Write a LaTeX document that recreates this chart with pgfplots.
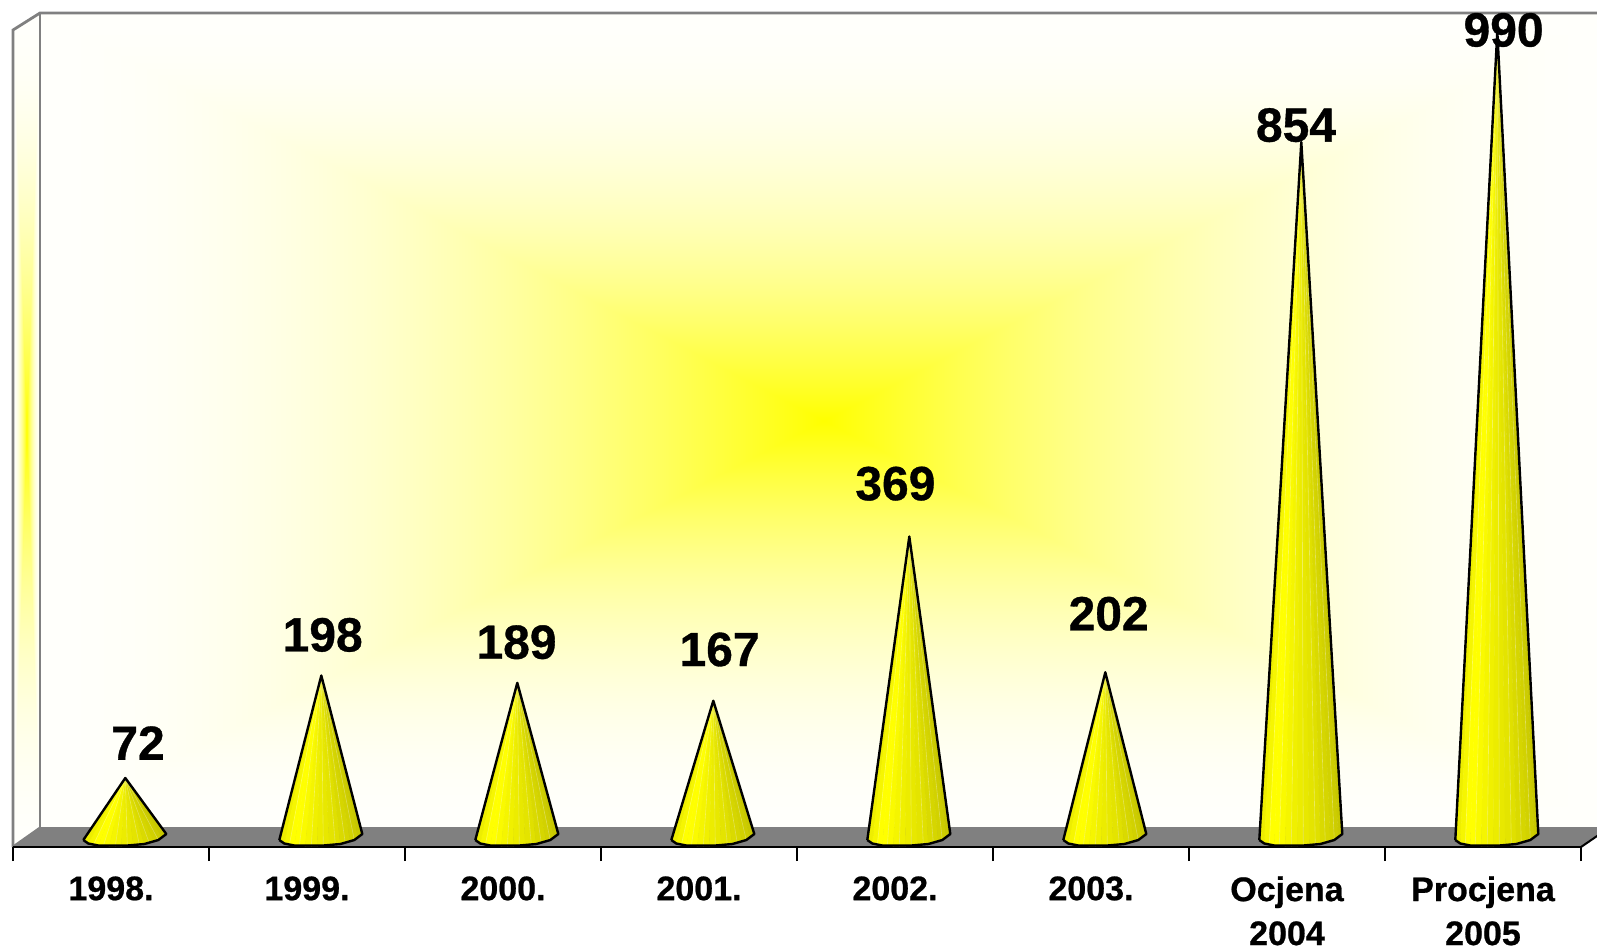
\documentclass[border=0pt]{standalone}
\usepackage{pgfplots}
\usepackage{fontspec}
\setmainfont{Liberation Sans}[BoldFeatures={FakeBold=0.7}]
\pgfplotsset{compat=1.18}
% rectangular "from centre" gradient: yellow in the middle, near white at the rim
% (TikZ fits the path into the inner 50bp of the 100bp shading box)
\pgfdeclarefunctionalshading{rectglow}{\pgfpointorigin}{\pgfpoint{100bp}{100bp}}{}{
  50 sub abs 25 div exch 50 sub abs 25 div
  2 copy lt {exch} if pop
  1 exch sub dup mul 1 exch sub 0.985 mul
  1 exch 1 exch
}
\definecolor{floorgray}{RGB}{128,128,128}
\definecolor{wallline}{RGB}{128,128,128}
\definecolor{sa}{RGB}{238,238,0}\definecolor{sb}{RGB}{246,246,0}
\definecolor{sc}{RGB}{255,255,0}\definecolor{sd}{RGB}{255,255,0}
\definecolor{se}{RGB}{250,250,0}\definecolor{sf}{RGB}{245,245,0}
\definecolor{sg}{RGB}{240,240,0}\definecolor{sh}{RGB}{236,236,0}
\definecolor{si}{RGB}{232,232,0}\definecolor{sj}{RGB}{228,228,0}
\definecolor{sk}{RGB}{224,224,0}\definecolor{sl}{RGB}{218,218,0}
\definecolor{sm}{RGB}{214,214,0}\definecolor{sn}{RGB}{210,210,0}
\definecolor{so}{RGB}{205,205,0}\definecolor{sp}{RGB}{200,200,0}
% one strip of a cone: colour, base offsets in px from the cone's centre
\newcommand\strip[5]{%
  \pgfmathsetmacro\xa{\cx+(#2)/196}\pgfmathsetmacro\ya{-(#3)/0.813}%
  \pgfmathsetmacro\xb{\cx+(#4)/196}\pgfmathsetmacro\yb{-(#5)/0.813}%
  \edef\doit{\noexpand\addplot[fill=#1,draw=#1,line width=0.2pt] coordinates {(\xa,\ya)(\cx,\cv)(\xb,\yb)};}%
  \doit}
% a faint light seam between strips
\newcommand\seam[2]{%
  \pgfmathsetmacro\xa{\cx+(#1)/196}\pgfmathsetmacro\ya{-(#2)/0.813}%
  \edef\doit{\noexpand\addplot[white,opacity=0.3,line width=0.3pt] coordinates {(\xa,\ya)(\cx,\cv)};}%
  \doit}
\newcommand\cone[2]{%
  \pgfmathsetmacro\cx{#1+0.073}\def\cv{#2}%
  \strip{sa}{-42}{3.5}{-37}{7}\strip{sb}{-37}{7}{-32}{8.5}%
  \strip{sc}{-32}{8.5}{-27}{9}\strip{sd}{-27}{9}{-22}{9.3}%
  \strip{se}{-22}{9.3}{-16}{9.5}\strip{sf}{-16}{9.5}{-10}{9.5}%
  \strip{sg}{-10}{9.5}{-4}{9.5}\strip{sh}{-4}{9.5}{2}{9}%
  \strip{si}{2}{9}{8}{8.5}\strip{sj}{8}{8.5}{14}{8}%
  \strip{sk}{14}{8}{19}{7.5}\strip{sl}{19}{7.5}{24}{6.5}%
  \strip{sm}{24}{6.5}{29}{5}\strip{sn}{29}{5}{33}{3.5}%
  \strip{so}{33}{3.5}{37}{1}\strip{sp}{37}{1}{41}{-2.5}%
  \seam{-32}{8.5}\seam{-22}{9.3}\seam{-10}{9.5}\seam{2}{9}\seam{14}{8}\seam{24}{6.5}\seam{33}{3.5}%
  \pgfmathsetmacro\xa{\cx-42/196}\pgfmathsetmacro\ya{-3.5/0.813}%
  \pgfmathsetmacro\xb{\cx+41/196}\pgfmathsetmacro\yb{2.5/0.813}%
  \pgfmathsetmacro\xc{\cx-37/196}\pgfmathsetmacro\yc{-7/0.813}%
  \pgfmathsetmacro\xd{\cx-27/196}\pgfmathsetmacro\yd{-9/0.813}%
  \pgfmathsetmacro\xe{\cx+2/196}\pgfmathsetmacro\ye{-9/0.813}%
  \pgfmathsetmacro\xf{\cx+19/196}\pgfmathsetmacro\yf{-7.5/0.813}%
  \pgfmathsetmacro\xg{\cx+33/196}\pgfmathsetmacro\yg{-3.5/0.813}%
  \edef\doit{\noexpand\addplot[black,line width=1.2pt,line join=round] coordinates {(\xa,\ya)(\cx,\cv)(\xb,\yb)(\xg,\yg)(\xf,\yf)(\xe,\ye)(\xd,\yd)(\xc,\yc)(\xa,\ya)};}%
  \doit}
\pgfplotstableread{
lx ly v
0.138 115 72
1.080 248 198
2.069 239 189
3.105 230 167
4.002 434 369
5.090 274 202
6.046 875 854
7.105 992 990
}\labeltable
\begin{document}
\begin{tikzpicture}[x=0.5pt,y=-0.5pt]
\useasboundingbox (0,0) rectangle (1597,950);
\begin{scope}
\clip (0,0) rectangle (1597,950);
\shade[shading=rectglow] (40,13) rectangle (1608,828);
\shade[shading=rectglow] (13,30) -- (40,13) -- (40,828) -- (13,847) -- cycle;
\fill[floorgray] (13,847) -- (40,828) -- (1608,828) -- (1581,847) -- cycle;
\draw[wallline,line width=1.4pt] (13,847) -- (13,30) -- (40,13) -- (1608,13);
\draw[wallline,line width=1.4pt] (40,13) -- (40,828) -- (1608,828);
\draw[wallline,line width=1.4pt] (13,847) -- (40,828);
\draw[black,line width=1pt] (1581,847) -- (1600,834);
\end{scope}
\begin{axis}[
  at={(6.5pt,-423.5pt)},anchor=south west,
  scale only axis,width=784pt,height=417pt,
  xmin=-0.5,xmax=7.5,ymin=-12.9,ymax=1012.9,
  clip=false,
  axis x line*=bottom,axis y line=none,
  x axis line style={-,black,line width=1.2pt},
  xtick={0,...,7},
  xticklabels={1998.,1999.,2000.,2001.,2002.,2003.,{Ocjena\\2004},{Procjena\\2005}},
  minor xtick={-0.5,0.5,...,7.5},
  major tick length=0pt,minor tick length=7pt,tick align=outside,
  minor tick style={black,line width=1pt},
  xticklabel style={align=center,anchor=north,inner sep=0pt,yshift=-14.5pt,
    font=\fontsize{17}{22}\selectfont\bfseries},
  ytick=\empty,
]
\cone{0}{72}
\cone{1}{198}
\cone{2}{189}
\cone{3}{167}
\cone{4}{369}
\cone{5}{202}
\cone{6}{854}
\cone{7}{990}
\addplot[draw=none,nodes near coords,point meta=explicit,
  nodes near coords={\pgfmathprintnumber[int detect]{\pgfplotspointmeta}},
  every node near coord/.style={anchor=center,inner sep=0pt,
    font=\fontsize{24}{24}\selectfont\bfseries,
    /pgf/number format/assume math mode=true}]
  table[x=lx,y=ly,meta=v] {\labeltable};
\end{axis}
\end{tikzpicture}
\end{document}
